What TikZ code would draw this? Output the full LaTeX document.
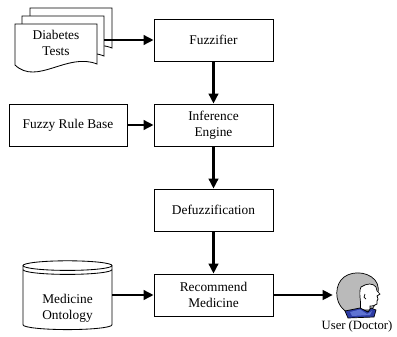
\documentclass[tikz,border=0pt]{standalone}
\usepackage{fontspec}
\setmainfont{Liberation Serif}
\usepackage{tikz}
\usetikzlibrary{positioning,arrows.meta}
\definecolor{collardark}{RGB}{45,60,165}
\definecolor{collarlight}{RGB}{95,115,210}

\begin{document}
\begin{tikzpicture}[
    font=\rmfamily\fontsize{9.5}{11.5}\selectfont,
    box/.style={rectangle, draw, line width=0.6pt, align=center,
      minimum width=2.975cm, minimum height=1.05cm, inner sep=1mm},
    doc/.style={draw, fill=white, line width=0.6pt},
    cyl/.style={draw, fill=white, line width=0.6pt},
    arr/.style={-{Triangle[length=2.5mm, width=2.4mm]}, line width=1.6pt}
  ]
  \useasboundingbox (0,0) rectangle (9.925,-8.425);

  % stacked test documents
  \foreach \xo/\yo in {0.75/-0.2, 0.55/-0.4, 0.375/-0.6}
    \draw[doc, shift={(\xo,\yo)}] (0,0) -- (2.05,0) -- (2.05,-1.0)
      .. controls (1.3,-0.7) and (0.55,-1.55) .. (0,-1.025) -- cycle;
  \node[align=center] (tests) at (1.4,-1.075) {Diabetes\\Tests};
  \coordinate (testsout) at (2.6,-1.0);

  \node[box] (fuzz)  at (5.3375,-1.0)   {Fuzzifier};
  \node[box] (infer) at (5.3375,-3.125) {Inference\\Engine};
  \node[box, minimum width=2.95cm] (rules) at (1.7,-3.125) {Fuzzy Rule Base};
  \node[box] (defuzz) at (5.3375,-5.25) {Defuzzification};
  \node[box] (rec)    at (5.3375,-7.375) {Recommend\\Medicine};

  % ontology store
  \draw[cyl] (0.575,-6.64) -- (0.575,-8.12)
    arc[start angle=180, end angle=360, x radius=1.1125, y radius=0.12] -- (2.8,-6.64);
  \draw[cyl] (1.6875,-6.64) ellipse [x radius=1.1125, y radius=0.12];
  \draw[line width=0.6pt] (0.575,-6.74)
    arc[start angle=180, end angle=360, x radius=1.1125, y radius=0.12];
  \node[align=center, minimum width=2.225cm, inner sep=0pt] (onto) at (1.6875,-7.7) {Medicine\\Ontology};

  % user icon
  \node[minimum width=1.25cm, minimum height=1.1cm] (user) at (8.95,-7.375) {};
  \begin{scope}[shift={(user.center)}, x=0.25mm, y=-0.25mm, line width=0.5pt]
    \draw[fill=black!27] (-9,18) .. controls (-23,12) and (-24,-6) .. (-17,-15)
      .. controls (-10,-24) and (8,-25) .. (17,-15)
      .. controls (21,-10) and (21,-4) .. (19,2)
      .. controls (18,8) and (16,13) .. (12,16) -- cycle;
    \draw[fill=white] (3,-8) .. controls (9,-12) and (15,-12) .. (18,-8)
      -- (19,-4) -- (22,-1) -- (19,1) -- (20,4) -- (19,6) -- (19,9)
      .. controls (17,11) and (14,11) .. (12,11) -- (12,15) -- (2,15)
      .. controls (4,8) and (0,-2) .. (3,-8) -- cycle;
    \draw (7,-1) .. controls (5,1) and (6,4) .. (8,4);
    \draw[fill=collardark] (-13,16) -- (2,13) -- (10,17) -- (13,13)
      -- (18,15) -- (16,22) -- (-10,23) -- cycle;
    \fill[collarlight] (-8,17) -- (2,14.5) -- (9,19) -- (14,16) -- (12,20) -- (-6,21) -- cycle;
  \end{scope}
  \node[font=\rmfamily\fontsize{9}{11}\selectfont] (userlbl) at (8.925,-8.15) {User (Doctor)};

  \draw[arr] (testsout) -- (fuzz.west);
  \draw[arr] (fuzz) -- (infer);
  \draw[arr] (rules) -- (infer);
  \draw[arr] (infer) -- (defuzz);
  \draw[arr] (defuzz) -- (rec);
  \draw[arr] (onto.east |- rec.west) -- (rec.west);
  \draw[arr] (rec.east) -- (user.west);
\end{tikzpicture}
\end{document}
